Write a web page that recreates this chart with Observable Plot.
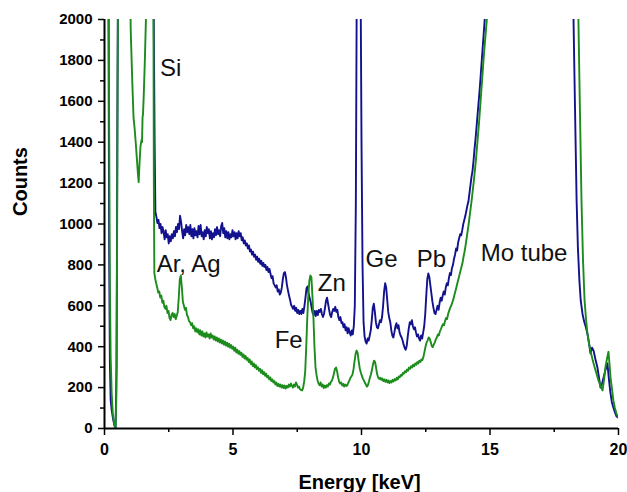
<!DOCTYPE html>
<html><head><meta charset="utf-8">
<script src="https://cdn.jsdelivr.net/npm/d3@7"></script>
<script src="https://cdn.jsdelivr.net/npm/@observablehq/plot@0.6"></script>
<style>body{margin:0;background:#fff}</style>
</head><body><div id="chart"></div>
<script>
// [energy keV, counts]
const blueSpectrum = [[0.10,2300],[0.15,2300],[0.18,900],[0.21,320],[0.24,140],[0.28,90],[0.33,50],[0.38,18],[0.43,3],[0.47,300],[0.50,1500],[0.53,2300],[1.90,2300],[1.95,1400],[1.98,1060],
[2.02,1035],[2.06,1005],[2.10,1020],[2.14,980],[2.18,1000],[2.22,955],[2.26,985],[2.30,960],[2.34,925],[2.38,970],[2.42,935],[2.46,950],[2.50,905],[2.54,940],[2.58,915],[2.62,950],[2.66,930],[2.70,965],[2.74,940],[2.78,985],[2.82,960],[2.86,1000],[2.90,975],[2.94,1040],[2.98,1010],[3.02,965],[3.06,930],[3.10,975],[3.14,945],[3.18,995],[3.22,960],[3.26,985],[3.30,950],[3.34,995],[3.38,940],[3.42,975],[3.46,930],[3.50,980],[3.54,945],[3.58,965],[3.62,935],[3.66,990],[3.70,950],[3.74,995],[3.78,940],[3.82,960],[3.86,925],[3.90,970],[3.94,940],[3.98,985],[4.02,955],[4.06,975],[4.10,930],[4.14,965],[4.18,925],[4.22,955],[4.26,935],[4.30,975],[4.34,945],[4.38,985],[4.42,950],[4.46,970],[4.50,940],[4.54,990],[4.58,1005],[4.62,955],[4.66,980],[4.70,935],[4.74,965],[4.78,930],[4.82,960],[4.86,925],[4.90,950],[4.94,935],[4.98,970],[5.02,940],[5.06,960],[5.10,925],[5.14,955],[5.18,930],[5.22,965],[5.26,940],[5.30,955],[5.34,920],[5.38,935],[5.42,905],[5.46,920],[5.50,895],[5.54,905],[5.58,880],[5.62,895],[5.66,865],[5.70,875],[5.74,850],[5.78,865],[5.82,840],[5.86,850],[5.90,825],[5.94,840],[5.98,815],[6.02,830],[6.06,805],[6.10,820],[6.14,795],[6.18,810],[6.22,790],[6.26,800],[6.30,775],[6.34,790],[6.38,765],[6.42,780],[6.46,755],[6.50,735],[6.54,745],[6.58,710],[6.62,700],[6.66,690],[6.70,700],[6.74,670],[6.78,680],[6.82,655],[6.86,665],[6.90,690],[6.94,730],[6.98,760],[7.02,765],[7.06,740],[7.10,700],[7.14,675],[7.18,650],[7.22,630],[7.26,605],[7.30,595],[7.34,585],[7.38,600],[7.42,575],[7.46,590],[7.50,565],[7.54,580],[7.58,560],[7.62,575],[7.66,560],[7.70,585],[7.74,565],[7.78,600],[7.82,640],[7.86,685],[7.90,695],[7.94,660],[7.98,640],[8.02,620],[8.06,590],[8.10,565],[8.14,555],[8.18,575],[8.22,550],[8.26,575],[8.30,555],[8.34,580],[8.38,570],[8.42,585],[8.46,560],[8.50,545],[8.54,560],[8.58,590],[8.62,625],[8.66,640],[8.70,610],[8.74,580],[8.78,555],[8.82,545],[8.86,570],[8.90,585],[8.94,575],[8.98,595],[9.02,570],[9.06,580],[9.10,545],[9.14,530],[9.18,545],[9.22,515],[9.26,520],[9.30,495],[9.34,510],[9.38,480],[9.42,495],[9.46,465],[9.50,490],[9.54,470],[9.58,455],[9.62,480],[9.66,460],[9.70,500],[9.74,600],[9.78,1100],[9.82,2300],[9.96,2300],[10.00,1400],[10.04,800],[10.08,520],[10.12,450],[10.16,425],[10.20,415],[10.24,440],[10.28,430],[10.32,455],[10.36,480],[10.40,530],[10.44,590],[10.48,610],[10.52,570],[10.56,520],[10.60,495],[10.64,490],[10.68,510],[10.72,530],[10.76,520],[10.80,545],[10.84,600],[10.88,670],[10.92,710],[10.96,690],[11.00,630],[11.04,570],[11.08,540],[11.12,520],[11.16,480],[11.20,455],[11.24,445],[11.28,470],[11.32,500],[11.36,515],[11.40,490],[11.44,505],[11.48,470],[11.52,455],[11.56,445],[11.60,430],[11.64,410],[11.68,395],[11.72,385],[11.76,405],[11.80,450],[11.84,490],[11.88,520],[11.92,510],[11.96,530],[12.00,500],[12.04,485],[12.08,495],[12.12,470],[12.16,450],[12.20,460],[12.24,440],[12.28,430],[12.32,455],[12.36,440],[12.40,470],[12.44,500],[12.48,560],[12.52,650],[12.56,730],[12.60,758],[12.64,740],[12.68,700],[12.72,660],[12.76,620],[12.80,590],[12.84,565],[12.88,560],[12.92,580],[12.96,600],[13.00,580],[13.04,615],[13.08,640],[13.12,625],[13.16,650],[13.20,670],[13.24,655],[13.28,690],[13.32,710],[13.36,700],[13.40,735],[13.44,760],[13.48,750],[13.52,785],[13.56,800],[13.60,830],[13.64,850],[13.68,880],[13.72,870],[13.76,910],[13.80,930],[13.84,950],[13.88,945],[13.92,970],[13.96,1000],[14.00,1020],[14.04,1040],[14.08,1065],[14.12,1090],[14.16,1110],[14.20,1150],[14.24,1190],[14.28,1230],[14.32,1260],[14.36,1310],[14.40,1370],[14.44,1420],[14.48,1480],[14.52,1540],[14.56,1600],[14.60,1660],[14.64,1730],[14.68,1800],[14.72,1870],[14.76,1940],[14.80,2010],[14.84,2080],[14.88,2150],[14.95,2300],[18.20,2300],[18.25,2000],[18.31,1550],[18.37,1115],[18.42,885],[18.48,720],[18.53,626],[18.60,560],[18.66,525],[18.72,500],[18.79,465],[18.85,420],[18.91,367],[18.97,395],[19.03,381],[19.10,340],[19.18,298],[19.24,250],[19.30,200],[19.36,220],[19.42,249],[19.50,290],[19.57,318],[19.62,250],[19.68,180],[19.74,130],[19.80,103],[19.86,80],[19.92,60],[19.98,54]];

const greenSpectrum = [[0.10,2300],[0.16,2300],[0.18,1500],[0.21,700],[0.24,350],[0.28,170],[0.32,80],[0.36,35],[0.40,10],[0.43,2],[0.46,150],[0.49,900],[0.51,1700],[0.53,2300],[0.99,2300],[1.02,1950],[1.08,1700],[1.13,1520],[1.17,1470],[1.22,1390],[1.27,1300],[1.31,1230],[1.33,1205],[1.36,1290],[1.40,1380],[1.44,1410],[1.46,1400],[1.48,1520],[1.50,1540],[1.53,1640],[1.57,1800],[1.61,1990],[1.64,2300],[1.90,2300],[1.92,1200],[1.94,760],[1.97,735],[2.01,710],[2.05,690],[2.09,665],[2.13,670],[2.17,640],[2.21,650],[2.25,615],[2.29,625],[2.33,595],[2.37,585],[2.41,600],[2.45,565],[2.49,575],[2.53,540],[2.57,530],[2.61,555],[2.65,565],[2.69,545],[2.73,560],[2.77,535],[2.81,550],[2.85,570],[2.89,640],[2.93,730],[2.97,748],[3.01,690],[3.05,620],[3.09,600],[3.13,580],[3.17,590],[3.21,555],[3.25,545],[3.29,525],[3.33,520],[3.37,505],[3.41,515],[3.45,490],[3.49,500],[3.53,475],[3.57,490],[3.61,470],[3.65,485],[3.69,460],[3.73,480],[3.77,455],[3.81,475],[3.85,450],[3.89,465],[3.93,445],[3.97,470],[4.01,450],[4.05,460],[4.09,440],[4.13,465],[4.17,445],[4.21,455],[4.25,435],[4.29,450],[4.33,430],[4.37,445],[4.41,425],[4.45,440],[4.49,420],[4.53,435],[4.57,415],[4.61,430],[4.65,410],[4.69,425],[4.73,405],[4.77,420],[4.81,400],[4.85,415],[4.89,395],[4.93,408],[4.97,390],[5.01,400],[5.05,380],[5.09,395],[5.13,372],[5.17,385],[5.21,365],[5.25,378],[5.29,360],[5.33,370],[5.37,350],[5.41,362],[5.45,342],[5.49,355],[5.53,336],[5.57,345],[5.61,325],[5.65,338],[5.69,315],[5.73,328],[5.77,305],[5.81,318],[5.85,298],[5.89,310],[5.93,290],[5.97,300],[6.01,282],[6.05,292],[6.09,272],[6.13,285],[6.17,265],[6.21,276],[6.25,258],[6.29,268],[6.33,250],[6.37,258],[6.41,240],[6.45,250],[6.49,232],[6.53,240],[6.57,225],[6.61,232],[6.65,215],[6.69,225],[6.73,208],[6.77,218],[6.81,205],[6.85,215],[6.89,200],[6.93,212],[6.97,198],[7.01,210],[7.05,195],[7.09,208],[7.13,200],[7.17,215],[7.21,205],[7.25,220],[7.29,210],[7.33,200],[7.37,215],[7.41,205],[7.45,225],[7.49,215],[7.53,200],[7.57,205],[7.61,192],[7.65,188],[7.69,186],[7.73,200],[7.77,230],[7.81,280],[7.85,400],[7.89,540],[7.93,650],[7.97,720],[8.01,748],[8.05,740],[8.09,650],[8.13,540],[8.17,400],[8.21,300],[8.25,262],[8.29,235],[8.33,220],[8.37,212],[8.41,225],[8.45,205],[8.49,215],[8.53,198],[8.57,210],[8.61,200],[8.65,212],[8.69,205],[8.73,220],[8.77,215],[8.81,228],[8.85,235],[8.89,250],[8.93,270],[8.97,292],[9.01,298],[9.05,280],[9.09,250],[9.13,230],[9.17,220],[9.21,225],[9.25,210],[9.29,218],[9.33,205],[9.37,215],[9.41,208],[9.45,212],[9.49,225],[9.53,235],[9.57,248],[9.61,255],[9.65,265],[9.69,290],[9.73,330],[9.77,365],[9.81,381],[9.85,370],[9.89,330],[9.93,295],[9.97,275],[10.01,260],[10.05,245],[10.09,235],[10.13,225],[10.17,215],[10.21,205],[10.25,212],[10.29,230],[10.33,250],[10.37,265],[10.41,290],[10.45,315],[10.49,332],[10.53,325],[10.57,295],[10.61,265],[10.65,250],[10.69,242],[10.73,248],[10.77,238],[10.81,245],[10.85,232],[10.89,240],[10.93,228],[10.97,238],[11.01,225],[11.05,235],[11.09,222],[11.13,232],[11.17,225],[11.21,238],[11.25,230],[11.29,242],[11.33,235],[11.37,248],[11.41,240],[11.45,255],[11.49,250],[11.53,262],[11.57,258],[11.61,272],[11.65,268],[11.69,280],[11.73,275],[11.77,288],[11.81,282],[11.85,298],[11.89,292],[11.93,305],[11.97,298],[12.01,312],[12.05,305],[12.09,318],[12.13,312],[12.17,325],[12.21,318],[12.25,332],[12.29,325],[12.33,338],[12.37,335],[12.41,350],[12.45,375],[12.49,400],[12.53,420],[12.57,430],[12.61,445],[12.65,440],[12.69,425],[12.73,405],[12.77,398],[12.81,410],[12.85,420],[12.89,435],[12.93,445],[12.97,460],[13.01,455],[13.05,475],[13.09,485],[13.13,500],[13.17,510],[13.21,505],[13.25,525],[13.29,540],[13.33,535],[13.37,560],[13.41,575],[13.45,590],[13.49,600],[13.53,615],[13.57,630],[13.61,650],[13.65,670],[13.69,690],[13.73,710],[13.77,730],[13.81,750],[13.85,770],[13.89,790],[13.93,810],[13.97,840],[14.01,865],[14.05,895],[14.09,930],[14.13,965],[14.17,1000],[14.21,1040],[14.25,1080],[14.29,1120],[14.33,1165],[14.37,1210],[14.41,1260],[14.45,1310],[14.49,1370],[14.53,1430],[14.57,1490],[14.61,1560],[14.65,1630],[14.69,1700],[14.73,1770],[14.77,1840],[14.81,1900],[14.85,1960],[14.89,2020],[14.95,2110],[15.05,2300],[18.40,2300],[18.44,2000],[18.50,1550],[18.56,1115],[18.62,820],[18.68,626],[18.74,530],[18.79,465],[18.86,410],[18.93,370],[19.00,332],[19.07,300],[19.14,270],[19.22,235],[19.30,210],[19.38,186],[19.44,240],[19.49,298],[19.55,340],[19.61,375],[19.66,300],[19.69,249],[19.75,190],[19.80,137],[19.86,100],[19.92,73],[20.00,54]];

const peakLabels = ["Si", "Ar, Ag", "Fe", "Zn", "Ge", "Pb", "Mo tube"];
const peakLabelEnergy = [2.16, 2.03, 6.62, 8.30, 10.16, 12.15, 14.64];
const peakLabelCounts = [1726, 763, 396, 670, 792, 792, 817];

const xTicks = [0, 5, 10, 15, 20];
const xMinorTicks = [2.5, 7.5, 12.5, 17.5];
const yTicks = [0, 200, 400, 600, 800, 1000, 1200, 1400, 1600, 1800, 2000];
const yMinorTicks = [100, 300, 500, 700, 900, 1100, 1300, 1500, 1700, 1900];

const xTitle = "Energy [keV]";
const yTitle = "Counts";

const labels = peakLabels.map((t, i) => ({t, x: peakLabelEnergy[i], y: peakLabelCounts[i]}));

const chart = Plot.plot({
  width: 627, height: 492,
  marginTop: 19, marginBottom: 64, marginLeft: 104, marginRight: 9,
  style: {fontFamily: "'Liberation Sans', Arial, sans-serif", background: "white", color: "black"},
  x: {domain: [0, 20]},
  y: {domain: [0, 2000]},
  marks: [
    Plot.line(blueSpectrum, {x: d => d[0], y: d => d[1], stroke: "#12128e", strokeWidth: 1.9, clip: true}),
    Plot.line(greenSpectrum, {x: d => d[0], y: d => d[1], stroke: "#1c8c1c", strokeWidth: 1.9, clip: true}),
    Plot.axisY({ticks: yTicks, tickFormat: d => String(d), tickSize: 6, tickPadding: 6, fontSize: 15, fontWeight: "bold", label: null, strokeWidth: 1.5}),
    Plot.axisY({ticks: yMinorTicks, tickSize: 4, tickFormat: () => "", label: null, strokeWidth: 1.5}),
    Plot.axisX({ticks: xTicks, tickFormat: d => String(d), tickSize: 7, tickPadding: 8, fontSize: 16, fontWeight: "bold", label: null, strokeWidth: 1.5}),
    Plot.axisX({ticks: xMinorTicks, tickSize: 4, tickFormat: () => "", label: null, strokeWidth: 1.5}),
    Plot.ruleX([0], {strokeWidth: 2}),
    Plot.ruleY([0], {strokeWidth: 2}),
    Plot.text(labels, {x: "x", y: "y", text: "t", textAnchor: "start", lineAnchor: "bottom", fontSize: 24, fill: "#111"}),
    Plot.text([xTitle], {frameAnchor: "bottom", dy: 60, dx: -2, lineAnchor: "bottom", fontSize: 20, fontWeight: "bold"}),
    Plot.text([yTitle], {frameAnchor: "left", dx: -84, dy: -8, rotate: -90, lineAnchor: "middle", fontSize: 20, fontWeight: "bold"})
  ]
});
document.getElementById("chart").appendChild(chart);
</script>
</body></html>
